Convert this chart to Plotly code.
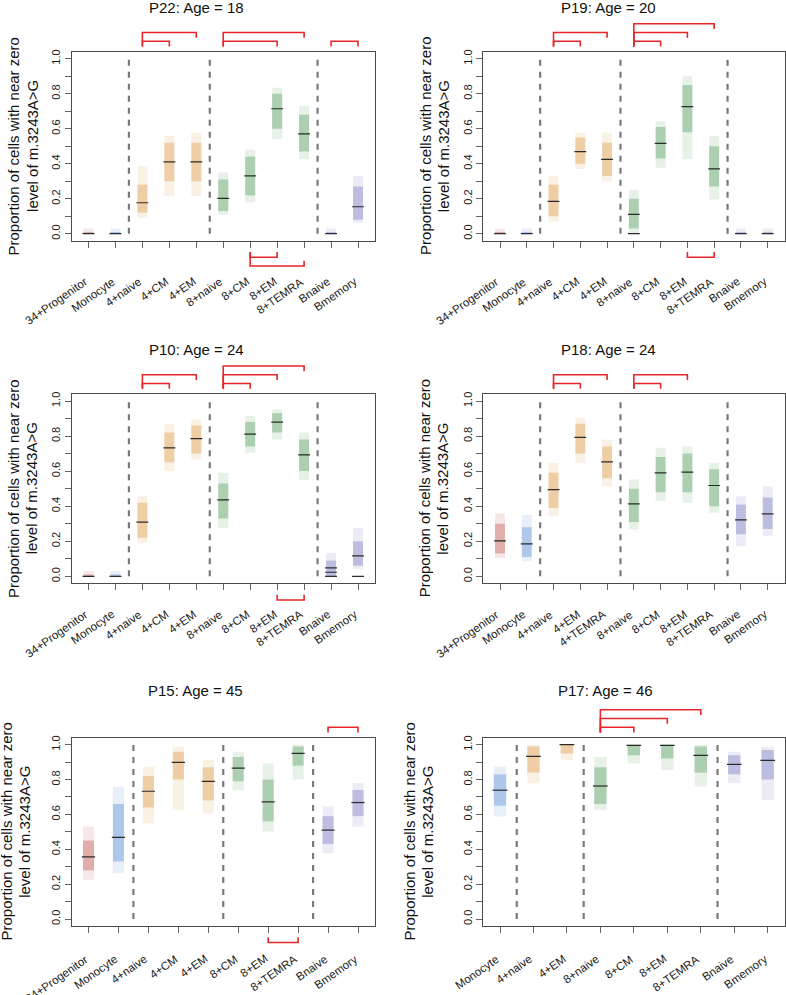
import plotly.graph_objects as go

FIG_W, FIG_H = 786, 995

# ---------------- data ----------------
p22_title = "P22: Age = 18"
p22_cats = ["34+Progenitor", "Monocyte", "4+naive", "4+CM", "4+EM", "8+naive", "8+CM", "8+EM", "8+TEMRA", "Bnaive", "Bmemory"]
p22_med = [0.0, 0.0, 0.177, 0.41, 0.41, 0.202, 0.331, 0.714, 0.571, 0.0, 0.154]
p22_lo = [0.0, 0.0, 0.09, 0.215, 0.215, 0.11, 0.18, 0.54, 0.425, 0.0, 0.063]
p22_hi = [0.03, 0.03, 0.387, 0.56, 0.577, 0.35, 0.48, 0.834, 0.73, 0.03, 0.33]
p22_clo = [0.0, 0.0, 0.12, 0.30, 0.30, 0.13, 0.22, 0.60, 0.47, 0.0, 0.08]
p22_chi = [0.01, 0.01, 0.28, 0.52, 0.52, 0.31, 0.44, 0.80, 0.68, 0.01, 0.27]
p22_extra = []
p22_top = [("4+naive", "4+CM", 1), ("4+naive", "4+EM", 2), ("8+naive", "8+EM", 1), ("8+naive", "8+TEMRA", 2), ("Bnaive", "Bmemory", 1)]
p22_bottom = [("8+CM", "8+EM", 1), ("8+CM", "8+TEMRA", 2)]

p19_title = "P19: Age = 20"
p19_cats = ["34+Progenitor", "Monocyte", "4+naive", "4+CM", "4+EM", "8+naive", "8+CM", "8+EM", "8+TEMRA", "Bnaive", "Bmemory"]
p19_med = [0.0, 0.0, 0.185, 0.469, 0.425, 0.11, 0.516, 0.726, 0.371, 0.0, 0.0]
p19_lo = [0.0, 0.0, 0.07, 0.37, 0.30, 0.0, 0.377, 0.425, 0.196, 0.0, 0.0]
p19_hi = [0.03, 0.03, 0.33, 0.577, 0.577, 0.25, 0.644, 0.90, 0.558, 0.03, 0.03]
p19_clo = [0.0, 0.0, 0.10, 0.40, 0.33, 0.03, 0.43, 0.58, 0.27, 0.0, 0.0]
p19_chi = [0.01, 0.01, 0.28, 0.55, 0.52, 0.20, 0.61, 0.85, 0.50, 0.01, 0.01]
p19_extra = [("8+naive", 0.0)]
p19_top = [("4+naive", "4+CM", 1), ("4+naive", "4+EM", 2), ("8+naive", "8+CM", 1), ("8+naive", "8+EM", 2), ("8+naive", "8+TEMRA", 3)]
p19_bottom = [("8+EM", "8+TEMRA", 1)]

p10_title = "P10: Age = 24"
p10_cats = ["34+Progenitor", "Monocyte", "4+naive", "4+CM", "4+EM", "8+naive", "8+CM", "8+EM", "8+TEMRA", "Bnaive", "Bmemory"]
p10_med = [0.0, 0.0, 0.309, 0.733, 0.785, 0.436, 0.811, 0.88, 0.693, 0.0, 0.116]
p10_lo = [0.0, 0.0, 0.19, 0.60, 0.667, 0.276, 0.705, 0.78, 0.55, 0.0, 0.04]
p10_hi = [0.03, 0.03, 0.457, 0.867, 0.895, 0.59, 0.914, 0.952, 0.82, 0.133, 0.276]
p10_clo = [0.0, 0.0, 0.22, 0.65, 0.70, 0.33, 0.74, 0.82, 0.60, 0.0, 0.06]
p10_chi = [0.01, 0.01, 0.42, 0.82, 0.86, 0.53, 0.88, 0.93, 0.78, 0.09, 0.20]
p10_extra = [("Bnaive", 0.023), ("Bnaive", 0.048), ("Bmemory", 0.0)]
p10_top = [("4+naive", "4+CM", 1), ("4+naive", "4+EM", 2), ("8+naive", "8+CM", 1), ("8+naive", "8+EM", 2), ("8+naive", "8+TEMRA", 3)]
p10_bottom = [("8+EM", "8+TEMRA", 1)]

p18_title = "P18: Age = 24"
p18_cats = ["34+Progenitor", "Monocyte", "4+naive", "4+EM", "4+TEMRA", "8+naive", "8+CM", "8+EM", "8+TEMRA", "Bnaive", "Bmemory"]
p18_med = [0.202, 0.185, 0.495, 0.792, 0.653, 0.413, 0.59, 0.594, 0.518, 0.322, 0.356]
p18_lo = [0.105, 0.086, 0.343, 0.648, 0.514, 0.267, 0.43, 0.42, 0.362, 0.171, 0.229]
p18_hi = [0.36, 0.35, 0.648, 0.905, 0.78, 0.552, 0.733, 0.74, 0.648, 0.457, 0.514]
p18_clo = [0.13, 0.11, 0.39, 0.70, 0.56, 0.31, 0.48, 0.48, 0.40, 0.24, 0.27]
p18_chi = [0.30, 0.28, 0.59, 0.87, 0.74, 0.50, 0.68, 0.70, 0.61, 0.41, 0.45]
p18_extra = []
p18_top = [("4+naive", "4+EM", 1), ("4+naive", "4+TEMRA", 2), ("8+naive", "8+CM", 1), ("8+naive", "8+EM", 2)]
p18_bottom = []

p15_title = "P15: Age = 45"
p15_cats = ["34+Progenitor", "Monocyte", "4+naive", "4+CM", "4+EM", "8+CM", "8+EM", "8+TEMRA", "Bnaive", "Bmemory"]
p15_med = [0.357, 0.468, 0.733, 0.899, 0.79, 0.865, 0.672, 0.95, 0.51, 0.668]
p15_lo = [0.225, 0.263, 0.55, 0.626, 0.607, 0.74, 0.502, 0.80, 0.378, 0.53]
p15_hi = [0.53, 0.76, 0.874, 0.99, 0.912, 0.96, 0.893, 1.0, 0.645, 0.779]
p15_clo = [0.28, 0.33, 0.64, 0.80, 0.68, 0.79, 0.56, 0.88, 0.43, 0.59]
p15_chi = [0.45, 0.66, 0.82, 0.96, 0.87, 0.93, 0.80, 0.99, 0.59, 0.74]
p15_extra = []
p15_top = [("Bnaive", "Bmemory", 1)]
p15_bottom = [("8+EM", "8+TEMRA", 1)]

p17_title = "P17: Age = 46"
p17_cats = ["Monocyte", "4+naive", "4+EM", "8+naive", "8+CM", "8+EM", "8+TEMRA", "Bnaive", "Bmemory"]
p17_med = [0.739, 0.933, 1.0, 0.763, 0.996, 0.996, 0.939, 0.887, 0.91]
p17_lo = [0.588, 0.779, 0.912, 0.626, 0.893, 0.855, 0.76, 0.779, 0.683]
p17_hi = [0.874, 0.998, 1.0, 0.93, 1.0, 1.0, 0.998, 0.96, 0.99]
p17_clo = [0.65, 0.84, 0.95, 0.66, 0.94, 0.92, 0.84, 0.83, 0.80]
p17_chi = [0.83, 0.99, 1.0, 0.87, 1.0, 1.0, 0.99, 0.94, 0.97]
p17_extra = []
p17_top = [("8+naive", "8+CM", 1), ("8+naive", "8+EM", 2), ("8+naive", "8+TEMRA", 3)]
p17_bottom = []

y_tick_vals = [0.0, 0.1, 0.2, 0.3, 0.4, 0.5, 0.6, 0.7, 0.8, 0.9, 1.0]
y_tick_text = ["0.0", "", "0.2", "", "0.4", "", "0.6", "", "0.8", "", "1.0"]
y_title_1 = "Proportion of cells with near zero"
y_title_2 = "level of m.3243A&gt;G"

# ---------------- style / layout ----------------
FONT = "Liberation Sans, Arial, Helvetica, sans-serif"
GROUP_RGB = {"prog": (181, 64, 58), "mono": (63, 127, 207), "cd4": (216, 137, 43),
             "cd8": (59, 138, 69), "b": (100, 100, 184)}


def group_of(name):
    if name.startswith("34+"):
        return "prog"
    if name == "Monocyte":
        return "mono"
    if name.startswith("4+"):
        return "cd4"
    if name.startswith("8+"):
        return "cd8"
    return "b"


def block_of(name):
    g = group_of(name)
    return "myeloid" if g in ("prog", "mono") else g


LEFT_X = (71.5, 375.0)
RIGHT_X = (483.0, 784.7)
ROWS_Y = [(51.7, 240.7), (394.0, 583.3), (737.7, 926.0)]
XLAB_GAP = [32.0, 22.0, 24.0]
TITLE_POS = [(196.5, 8.0), (608.0, 8.0), (196.5, 349.3), (608.0, 349.3), (195.7, 690.7), (605.0, 690.7)]
YLAB_X = [(13.3, 31.7), (424.7, 443.0), (13.3, 31.7), (424.7, 443.0), (6.7, 25.0), (409.7, 428.0)]
PAD_PX = 17.0
EXT_PX = 48.0
YR = (-0.04, 1.04)
BAR_W = 0.37
MED_HW = 0.22

panels = [
    (p22_title, p22_cats, p22_med, p22_lo, p22_hi, p22_clo, p22_chi, p22_extra, p22_top, p22_bottom, 0, "L"),
    (p19_title, p19_cats, p19_med, p19_lo, p19_hi, p19_clo, p19_chi, p19_extra, p19_top, p19_bottom, 0, "R"),
    (p10_title, p10_cats, p10_med, p10_lo, p10_hi, p10_clo, p10_chi, p10_extra, p10_top, p10_bottom, 1, "L"),
    (p18_title, p18_cats, p18_med, p18_lo, p18_hi, p18_clo, p18_chi, p18_extra, p18_top, p18_bottom, 1, "R"),
    (p15_title, p15_cats, p15_med, p15_lo, p15_hi, p15_clo, p15_chi, p15_extra, p15_top, p15_bottom, 2, "L"),
    (p17_title, p17_cats, p17_med, p17_lo, p17_hi, p17_clo, p17_chi, p17_extra, p17_top, p17_bottom, 2, "R"),
]

fig = go.Figure()
layout = {}
annotations = []
N = len(panels)


def rgba(g, a):
    r, gg, b = GROUP_RGB[g]
    return f"rgba({r},{gg},{b},{a})"


def ax_id(letter, k):
    return letter if k == 1 else f"{letter}{k}"


for k, (title, cats, med, lo, hi, clo, chi, extra, top, bottom, row, side) in enumerate(panels, start=1):
    x0, x1 = LEFT_X if side == "L" else RIGHT_X
    y0, y1 = ROWS_Y[row]
    n = len(cats)
    W = x1 - x0
    H = y1 - y0
    spacing = (W - 2 * PAD_PX) / (n - 1)
    d = PAD_PX / spacing
    xr = [1 - d, n + d]
    pos = list(range(1, n + 1))
    idx = {c: i + 1 for i, c in enumerate(cats)}
    xdom = [x0 / FIG_W, x1 / FIG_W]
    ydom = [1 - y1 / FIG_H, 1 - y0 / FIG_H]
    ppu = H / (YR[1] - YR[0])
    ovr = [YR[0] - EXT_PX / ppu, YR[1] + EXT_PX / ppu]
    ovdom = [1 - (y1 + EXT_PX) / FIG_H, 1 - (y0 - EXT_PX) / FIG_H]
    xa, ya = ax_id("x", k), ax_id("y", k)
    oxa, oya = ax_id("x", k + N), ax_id("y", k + N)

    groups = [group_of(c) for c in cats]
    fig.add_trace(go.Bar(x=pos, y=[h - l for h, l in zip(hi, lo)], base=lo, width=BAR_W,
                         marker=dict(color=[rgba(g, 0.12) for g in groups], line=dict(width=0)),
                         xaxis=xa, yaxis=ya, showlegend=False, hoverinfo="skip"))
    fig.add_trace(go.Bar(x=pos, y=[h - l for h, l in zip(chi, clo)], base=clo, width=BAR_W,
                         marker=dict(color=[rgba(g, 0.34) for g in groups], line=dict(width=0)),
                         xaxis=xa, yaxis=ya, showlegend=False, hoverinfo="skip"))
    mx, my = [], []
    for p, m in zip(pos, med):
        mx += [p - MED_HW, p + MED_HW, None]
        my += [m, m, None]
    for c, v in extra:
        p = idx[c]
        mx += [p - MED_HW, p + MED_HW, None]
        my += [v, v, None]
    fig.add_trace(go.Scatter(x=mx, y=my, mode="lines", line=dict(color="#2a2a2a", width=1.2),
                             xaxis=xa, yaxis=ya, showlegend=False, hoverinfo="skip"))
    sx, sy = [], []
    for i in range(n - 1):
        if block_of(cats[i]) != block_of(cats[i + 1]):
            s = pos[i] + 0.5
            sx += [s, s, None]
            sy += [0, 1, None]
    fig.add_trace(go.Scatter(x=sx, y=sy, mode="lines",
                             line=dict(color="#7a7a7a", width=2.2, dash="6px,6px"),
                             xaxis=xa, yaxis=ya, showlegend=False, hoverinfo="skip"))
    bx, by = [], []
    for a, b, lev in top:
        h = 1.10 + 0.05 * (lev - 1)
        bx += [idx[a], idx[a], idx[b], idx[b], None]
        by += [1.07, h, h, h - 0.03, None]
    for a, b, lev in bottom:
        h = -0.135 - 0.05 * (lev - 1)
        bx += [idx[a], idx[a], idx[b], idx[b], None]
        by += [-0.105, h, h, h + 0.03, None]
    fig.add_trace(go.Scatter(x=bx, y=by, mode="lines",
                             line=dict(color="#e8262a", width=1.6),
                             xaxis=oxa, yaxis=oya, showlegend=False, hoverinfo="skip"))

    layout["xaxis" if k == 1 else f"xaxis{k}"] = dict(
        domain=xdom, range=xr, anchor=ya, tickmode="array", tickvals=pos,
        ticktext=["" for _ in cats], ticks="outside", ticklen=6, tickwidth=1, tickcolor="#666",
        showline=True, linecolor="#4a4a4a", linewidth=1, mirror=True, showgrid=False,
        zeroline=False, fixedrange=True)
    layout["yaxis" if k == 1 else f"yaxis{k}"] = dict(
        domain=ydom, range=list(YR), anchor=xa, tickmode="array", tickvals=y_tick_vals,
        ticktext=y_tick_text, tickangle=-90, ticks="outside", ticklen=6, tickwidth=1,
        tickcolor="#666", showline=True, linecolor="#4a4a4a", linewidth=1, mirror=True,
        showgrid=False, zeroline=False, tickfont=dict(family=FONT, size=11, color="#1a1a1a"),
        fixedrange=True)
    layout[f"xaxis{k + N}"] = dict(domain=xdom, range=xr, anchor=oya, visible=False, fixedrange=True)
    layout[f"yaxis{k + N}"] = dict(domain=ovdom, range=ovr, anchor=oxa, visible=False, fixedrange=True)

    # rotated category labels
    for p, c in zip(pos, cats):
        annotations.append(dict(text=c, x=p, y=1 - (y1 + XLAB_GAP[row]) / FIG_H, xref=xa, yref="paper",
                                xanchor="right", yanchor="top", textangle=-35, showarrow=False,
                                xshift=4, font=dict(family=FONT, size=11.5, color="#1a1a1a")))

    tx, ty = TITLE_POS[k - 1]
    annotations.append(dict(text=title, x=tx / FIG_W, y=1 - ty / FIG_H, xref="paper", yref="paper",
                            xanchor="center", yanchor="middle", showarrow=False,
                            font=dict(family=FONT, size=15, color="#111")))
    lx1, lx2 = YLAB_X[k - 1]
    yc = 1 - (y0 + y1) / 2 / FIG_H
    for txt, lx in ((y_title_1, lx1), (y_title_2, lx2)):
        annotations.append(dict(text=txt, x=lx / FIG_W, y=yc, xref="paper", yref="paper",
                                xanchor="center", yanchor="middle", textangle=-90, showarrow=False,
                                font=dict(family=FONT, size=15, color="#111")))

fig.update_layout(
    width=FIG_W, height=FIG_H, margin=dict(l=0, r=0, t=0, b=0, autoexpand=False),
    paper_bgcolor="white", plot_bgcolor="rgba(0,0,0,0)", barmode="overlay",
    showlegend=False, annotations=annotations, font=dict(family=FONT), **layout)

fig.write_html("out.html", post_script="document.body.style.margin='0px';",
               config={"displayModeBar": False})
